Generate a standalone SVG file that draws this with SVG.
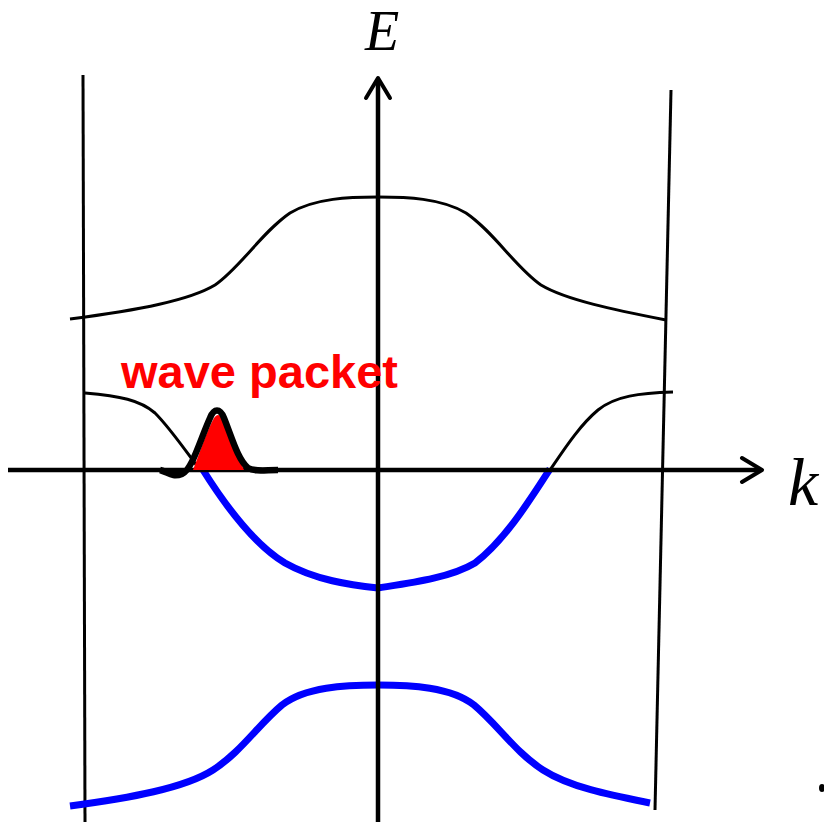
<svg xmlns="http://www.w3.org/2000/svg" width="824" height="822" viewBox="0 0 824 822">
<style>
.thin{fill:none;stroke:#000;stroke-width:3;stroke-linecap:butt}
.blue{fill:none;stroke:#0000ff;stroke-width:7}
.axis{fill:none;stroke:#000;stroke-width:4.5}
.arrow{fill:none;stroke:#000;stroke-width:4;stroke-linecap:round;stroke-linejoin:round}
.lbl{font-family:"Liberation Serif","Times New Roman",serif;font-style:italic;fill:#000}
</style>
<rect width="824" height="822" fill="#fff"/>
<g id="zone-boundaries">
<path class="thin" d="M83,75 L85,822"/>
<path class="thin" d="M671,90 L655,810"/>
</g>
<g id="upper-band">
<path class="thin" d="M70,319 C140,310 190,300 215,285 C240,268 262,232 290,213 C315,198 350,197 378,197 C406,197 441,198 466,213 C494,232 516,268 541,285 C566,300 615,310 666,320"/>
</g>
<g id="middle-band">
<path class="thin" d="M85,393 C120,396 140,400 155,413 C170,428 185,450 200,470"/>
<path class="thin" d="M550,470 C565,448 580,425 598,410 C615,396 640,393 673,392"/>
<path class="blue" d="M203,470 C225,505 255,545 285,563 C315,580 350,585 378,588 C410,583 450,578 475,563 C505,540 530,500 550,469"/>
</g>
<g id="lower-band">
<path class="blue" d="M70,806 C130,798 185,788 213,770 C241,752 258,725 282,705 C305,687 345,685 378,685 C411,685 451,687 474,705 C498,725 515,752 543,770 C571,788 615,796 650,803"/>
</g>
<g id="axes">
<path class="axis" d="M8,470 L760,470"/>
<path class="axis" d="M378,822 L378,80"/>
<path class="arrow" d="M366,98 L378,78 L390,98"/>
<path class="arrow" d="M742,458 L762,470 L742,482"/>
<text class="lbl" x="365" y="50" font-size="56">E</text>
<text class="lbl" x="788" y="505" font-size="68">k</text>
</g>
<g id="wave-packet">
<path d="M193,470 C200,452 207,430 214,418 C217,414 219,414 222,418 C229,432 236,452 244,470 Z" fill="#ff0000"/>
<path d="M160,470 C168,472 172,478 182,474 C192,470 200,440 210,418 C214,408 220,408 224,418 C232,438 238,460 248,468 C255,472 265,470 278,470" fill="none" stroke="#000" stroke-width="6.5" stroke-linejoin="round"/>
<text x="121" y="388" font-family="Liberation Sans, Arial, sans-serif" font-weight="bold" font-size="47" fill="#ff0000">wave packet</text>
</g>
<ellipse cx="822" cy="788" rx="3" ry="4" fill="#000"/>
</svg>
